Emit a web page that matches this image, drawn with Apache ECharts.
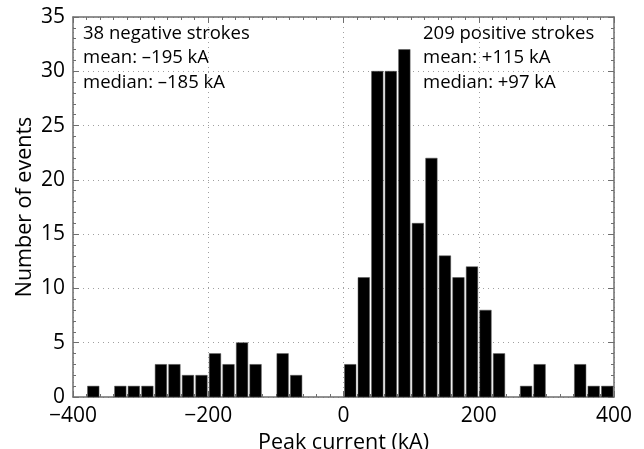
<!DOCTYPE html>
<html>
<head>
<meta charset="utf-8">
<script src="https://cdn.jsdelivr.net/npm/echarts@6/dist/echarts.min.js"></script>
<style>
  html, body { margin: 0; padding: 0; background: #fff; }
  #main { width: 644px; height: 449px; }
</style>
</head>
<body>
<div id="main"></div>
<script>
// bin edges (kA) and counts
var binStarts = [-380, -340, -320, -300, -280, -260, -240, -220, -200, -180, -160, -140, -100, -80,
                 0, 20, 40, 60, 80, 100, 120, 140, 160, 180, 200, 220, 260, 280, 340, 360, 380];
var binCounts = [1, 1, 1, 1, 3, 3, 2, 2, 4, 3, 5, 3, 4, 2,
                 3, 11, 30, 30, 32, 16, 22, 13, 11, 12, 8, 4, 1, 3, 3, 1, 1];
var binWidth = 20;
var negText = ['38 negative strokes', 'mean: \u2013195 kA', 'median: \u2013185 kA'];
var posText = ['209 positive strokes', 'mean: +115 kA', 'median: +97 kA'];

var font = 'Open Sans';
var frameColor = '#6e6e6e';

var bins = binStarts.map(function (s, i) { return [s, s + binWidth, binCounts[i]]; });

function fmt(v) {
    return v < 0 ? '\u2212' + Math.abs(v) : String(v);
}

var myChart = echarts.init(document.getElementById('main'));

var frameX = function (pos, show) {
    return {
        type: 'value', min: -400, max: 400, interval: 200, position: pos,
        axisLine: { show: true, onZero: false, lineStyle: { color: frameColor, width: 1.5 } },
        axisTick: { show: true, inside: true, length: 6, lineStyle: { color: frameColor } },
        minorTick: { show: true, splitNumber: 10, length: 3, lineStyle: { color: frameColor } },
        axisLabel: { show: show, color: '#000', fontFamily: font, fontSize: 21, margin: 9, formatter: fmt },
        splitLine: { show: show, lineStyle: { color: '#a0a0a0', type: [1, 4] } }
    };
};
var frameY = function (pos, show) {
    return {
        type: 'value', min: 0, max: 35, interval: 5, position: pos,
        axisLine: { show: true, onZero: false, lineStyle: { color: frameColor, width: 1.5 } },
        axisTick: { show: true, inside: true, length: 6, lineStyle: { color: frameColor } },
        minorTick: { show: true, splitNumber: 5, length: 3, lineStyle: { color: frameColor } },
        axisLabel: { show: show, color: '#000', fontFamily: font, fontSize: 21, margin: 8 },
        splitLine: { show: show, lineStyle: { color: '#a0a0a0', type: [1, 4] } }
    };
};

var xa = frameX('bottom', true);
xa.name = 'Peak current (kA)';
xa.nameLocation = 'middle';
xa.nameGap = 30;
xa.nameTextStyle = { color: '#000', fontFamily: font, fontSize: 21.5 };
var ya = frameY('left', true);
ya.name = 'Number of events';
ya.nameLocation = 'middle';
ya.nameGap = 37;
ya.nameMoveOverlap = false;
ya.nameTextStyle = { color: '#000', fontFamily: font, fontSize: 21.5 };

var option = {
    animation: false,
    backgroundColor: '#fff',
    grid: { left: 73, right: 30, top: 17, bottom: 52, containLabel: false, outerBoundsMode: 'none' },
    xAxis: [xa, frameX('top', false)],
    yAxis: [ya, frameY('right', false)],
    series: [{
        type: 'custom',
        xAxisIndex: 0,
        yAxisIndex: 0,
        data: bins,
        renderItem: function (params, api) {
            var p0 = api.coord([api.value(0), api.value(2)]);
            var p1 = api.coord([api.value(1), 0]);
            return {
                type: 'rect',
                shape: { x: p0[0] + 1, y: p0[1], width: p1[0] - p0[0] - 2, height: p1[1] - p0[1] },
                style: { fill: '#000', stroke: '#555', lineWidth: 0.5 }
            };
        }
    }],
    graphic: [
        {
            type: 'text', left: 83, top: 21,
            style: { text: negText.join('\n'), fontFamily: font, fontSize: 18.5, lineHeight: 24.5, fill: '#000' }
        },
        {
            type: 'text', left: 423, top: 21,
            style: { text: posText.join('\n'), fontFamily: font, fontSize: 18.5, lineHeight: 24.5, fill: '#000' }
        }
    ]
};
myChart.setOption(option);
</script>
</body>
</html>
